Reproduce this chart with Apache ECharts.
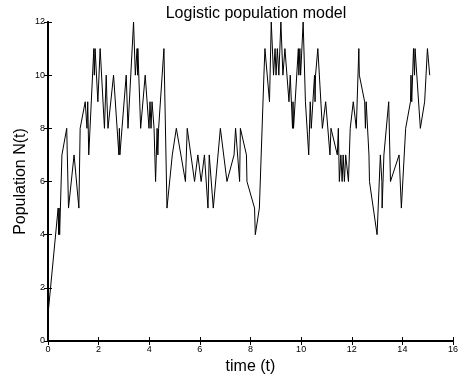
<!DOCTYPE html>
<html>
<head>
<meta charset="utf-8">
<script src="https://cdn.jsdelivr.net/npm/echarts@6/dist/echarts.min.js"></script>
<style>
  html, body { margin: 0; padding: 0; background: #fff; }
  #chart { width: 461px; height: 379px; }
</style>
</head>
<body>
<div id="chart"></div>
<script>
// event times and population sizes
const times = [
  0.00, 0.40, 0.42, 0.44, 0.46, 0.55, 0.74, 0.81, 1.03, 1.22,
  1.27, 1.47, 1.53, 1.54, 1.57, 1.61, 1.81, 1.83, 1.86, 1.97,
  2.06, 2.23, 2.30, 2.33, 2.37, 2.59, 2.80, 2.82, 2.84, 3.09,
  3.16, 3.38, 3.45, 3.52, 3.54, 3.55, 3.66, 3.84, 3.99, 4.03,
  4.07, 4.11, 4.15, 4.19, 4.25, 4.31, 4.34, 4.37, 4.58, 4.70,
  4.91, 5.07, 5.43, 5.50, 5.79, 5.92, 6.05, 6.18, 6.21, 6.32,
  6.37, 6.53, 6.81, 7.07, 7.35, 7.41, 7.57, 7.60, 7.84, 7.86,
  8.16, 8.19, 8.35, 8.53, 8.57, 8.75, 8.82, 8.91, 8.97, 9.01,
  9.06, 9.12, 9.20, 9.28, 9.36, 9.52, 9.57, 9.66, 9.68, 9.70,
  9.89, 9.91, 9.95, 9.98, 10.08, 10.17, 10.30, 10.36, 10.40, 10.53,
  10.55, 10.57, 10.66, 10.84, 10.97, 11.14, 11.18, 11.43, 11.47, 11.51,
  11.57, 11.62, 11.66, 11.71, 11.76, 11.87, 11.94, 12.06, 12.18, 12.28,
  12.30, 12.51, 12.54, 12.57, 12.68, 12.70, 12.73, 13.00, 13.13, 13.19,
  13.20, 13.24, 13.27, 13.46, 13.53, 13.87, 13.96, 14.13, 14.32, 14.34,
  14.37, 14.44, 14.48, 14.50, 14.52, 14.71, 14.88, 14.99, 15.08
];
const population = [
  1, 5, 4, 5, 4, 7, 8, 5, 7, 5,
  8, 9, 9, 8, 9, 7, 11, 10, 11, 9,
  11, 8, 10, 9, 8, 10, 7, 8, 7, 10,
  8, 12, 10, 11, 10, 11, 8, 10, 8, 9,
  8, 9, 9, 8, 6, 8, 7, 8, 11, 5,
  7, 8, 6, 8, 6, 7, 6, 7, 7, 5,
  7, 5, 8, 6, 7, 8, 6, 8, 7, 6,
  5, 4, 5, 10, 11, 9, 12, 10, 11, 10,
  11, 10, 12, 10, 11, 9, 10, 8, 9, 8,
  11, 10, 11, 10, 12, 9, 7, 9, 8, 10,
  9, 10, 11, 8, 9, 7, 8, 7, 8, 6,
  7, 6, 7, 6, 7, 6, 8, 9, 8, 11,
  10, 9, 8, 9, 7, 6, 6, 4, 7, 6,
  5, 5, 7, 9, 6, 7, 5, 8, 9, 10,
  9, 11, 10, 11, 11, 8, 9, 11, 10
];

const titleText = 'Logistic population model';
const xName = 'time (t)';
const yName = 'Population N(t)';

const font = 'Liberation Sans, Arial, Helvetica, sans-serif';

const chart = echarts.init(document.getElementById('chart'), null, { renderer: 'canvas' });

const axisLine = { show: true, lineStyle: { color: '#000', width: 2 } };
const axisTick = { show: true, inside: true, length: 4, lineStyle: { color: '#000', width: 1 } };

chart.setOption({
  animation: false,
  backgroundColor: '#fff',
  title: {
    text: titleText,
    left: 251,
    textAlign: 'center',
    top: 1,
    textStyle: { fontFamily: font, fontSize: 16, fontWeight: 'normal', color: '#000' }
  },
  grid: {
    left: 48,
    right: 8,
    top: 22,
    bottom: 38,
    outerBoundsMode: 'none'
  },
  xAxis: [
    {
      type: 'value',
      min: 0,
      max: 16,
      interval: 2,
      name: xName,
      nameLocation: 'center',
      nameGap: 15,
      nameTextStyle: { fontFamily: font, fontSize: 16, color: '#000', verticalAlign: 'top' },
      axisLine,
      axisTick,
      splitLine: { show: false },
      axisLabel: { fontFamily: font, fontSize: 9, color: '#000', margin: 4 }
    },
    {
      type: 'value',
      position: 'top',
      min: 0,
      max: 16,
      interval: 2,
      axisLine,
      axisTick,
      splitLine: { show: false },
      axisLabel: { show: false }
    }
  ],
  yAxis: [
    {
      type: 'value',
      min: 0,
      max: 12,
      interval: 2,
      name: yName,
      nameLocation: 'center',
      nameGap: 19,
      nameMoveOverlap: false,
      nameTextStyle: { fontFamily: font, fontSize: 16, color: '#000' },
      axisLine,
      axisTick,
      splitLine: { show: false },
      axisLabel: { fontFamily: font, fontSize: 9, color: '#000', margin: 3 }
    },
    {
      type: 'value',
      position: 'right',
      min: 0,
      max: 12,
      interval: 2,
      axisLine,
      axisTick,
      splitLine: { show: false },
      axisLabel: { show: false }
    }
  ],
  series: [
    {
      name: 'N(t)',
      type: 'line',
      xAxisIndex: 0,
      yAxisIndex: 0,
      data: times.map((t, i) => [t, population[i]]),
      showSymbol: false,
      lineStyle: { color: '#000', width: 1 },
      silent: true
    }
  ]
});
</script>
</body>
</html>
